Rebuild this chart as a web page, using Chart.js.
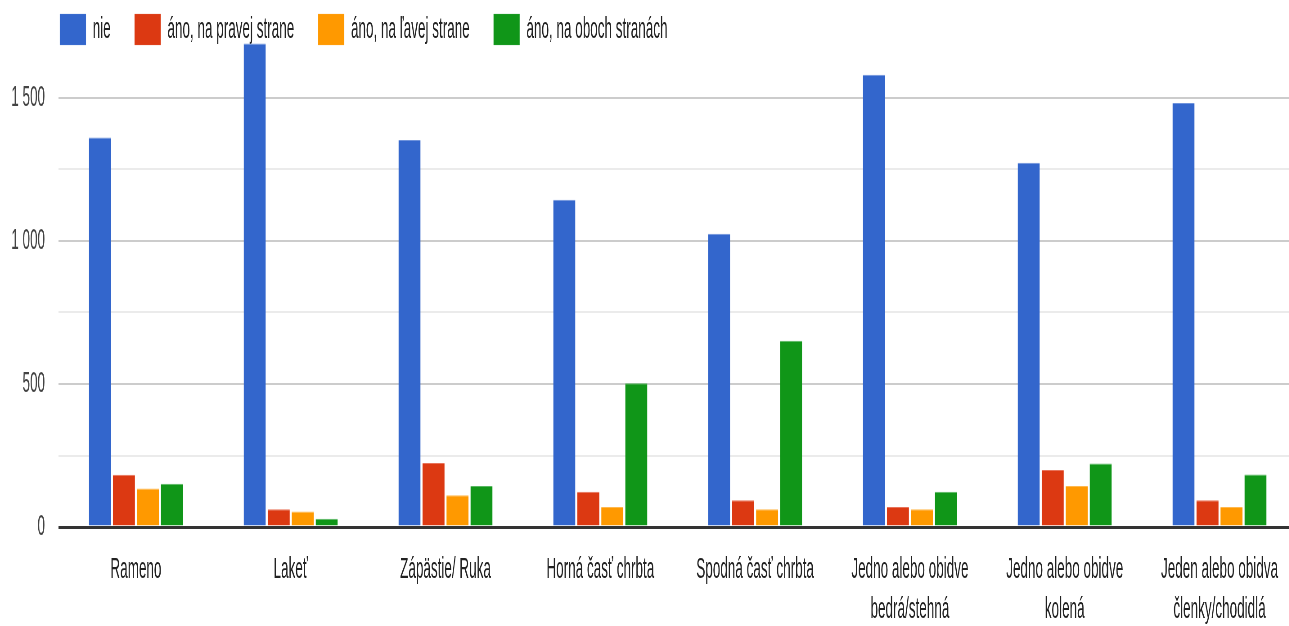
<!DOCTYPE html>
<html lang="sk">
<head>
<meta charset="utf-8">
<title>Bolesti podľa časti tela</title>
<script src="https://cdn.jsdelivr.net/npm/chart.js@4/dist/chart.umd.min.js"></script>
<style>
  html, body { margin: 0; padding: 0; background: #fff; overflow: hidden; }
  #wrap { width: 1289px; height: 626px; overflow: hidden; }
  /* the reference is squeezed sideways, so draw wide and squash */
  #chart { display: block; transform: scaleX(0.45); transform-origin: 0 0; }
</style>
</head>
<body>
<div id="wrap"><canvas id="chart" width="2882" height="626"></canvas></div>
<script>
// --- data ---
const categories = [
  'Rameno',
  'Lakeť',
  'Zápästie/ Ruka',
  'Horná časť chrbta',
  'Spodná časť chrbta',
  ['Jedno alebo obidve', 'bedrá/stehná'],
  ['Jedno alebo obidve', 'kolená'],
  ['Jeden alebo obidva', 'členky/chodidlá']
];
const seriesNames = ['nie', 'áno, na pravej strane', 'áno, na ľavej strane', 'áno, na oboch stranách'];
const nie      = [1362, 1690, 1353, 1144, 1025, 1581, 1273, 1482];
const pravej   = [183, 62, 224, 123, 94, 70, 199, 94];
const lavej    = [135, 54, 111, 70, 62, 62, 143, 70];
const oboch    = [151, 29, 143, 503, 651, 123, 222, 184];
const gridValues  = [0, 250, 500, 750, 1000, 1250, 1500];
const labelValues = [0, 500, 1000, 1500];
const yMax = 1650;

const colors = ['#3366cc', '#dc3912', '#ff9900', '#109618'];
const edges  = ['#6f93dc', '#e8735a', '#ffb84d', '#57b760'];

const fmtNum = (v) => String(v).replace(/\B(?=(\d{3})+(?!\d))/g, ' ');

Chart.defaults.font.family = "'Liberation Sans', Arial, sans-serif";
Chart.defaults.font.size = 30;
Chart.defaults.color = '#222';

const ds = [nie, pravej, lavej, oboch].map((data, i) => ({
  label: seriesNames[i],
  data,
  backgroundColor: colors[i],
  borderColor: edges[i],
  borderWidth: { top: 1, left: 0, right: 0, bottom: 0 },
  borderSkipped: 'bottom',
  categoryPercentage: 0.62,
  barPercentage: 0.92,
  clip: false   // the tall "Lakeť" bar runs up under the legend like in the original
}));

// y labels sit left of the legend offset, so let the axis draw over the padding
const wideYAxis = {
  id: 'wideYAxis',
  afterLayout(chart) { chart.scales.y.left = 0; }
};

new Chart(document.getElementById('chart'), {
  type: 'bar',
  data: { labels: categories, datasets: ds },
  plugins: [wideYAxis],
  options: {
    responsive: false,
    animation: false,
    layout: { padding: { left: 80, top: -39, right: 0, bottom: -27 } },
    plugins: {
      tooltip: { enabled: false },
      legend: {
        position: 'top',
        align: 'start',
        labels: {
          boxWidth: 58,
          boxHeight: 31,
          padding: 53,
          color: '#222',
          font: { size: 30 }
        }
      }
    },
    scales: {
      x: {
        grid: { display: false, drawTicks: false },
        border: { display: false },
        ticks: {
          autoSkip: false,
          maxRotation: 0,
          padding: 23,
          color: '#222',
          font: { size: 30, lineHeight: 1.333 }
        }
      },
      y: {
        min: 0,
        max: yMax,
        afterBuildTicks: (axis) => { axis.ticks = gridValues.map(v => ({ value: v })); },
        afterFit: (axis) => { axis.width = 50; },
        border: { display: false },
        grid: {
          drawTicks: false,
          color: (c) => c.tick.value === 0 ? '#333' : (c.tick.value % 500 === 0 ? '#cccccc' : '#ebebeb'),
          lineWidth: (c) => c.tick.value === 0 ? 3 : 2
        },
        ticks: {
          padding: 30,
          color: '#444',
          font: { size: 30 },
          callback: (v) => labelValues.includes(v) ? fmtNum(v) : ''
        }
      }
    }
  }
});
</script>
</body>
</html>
